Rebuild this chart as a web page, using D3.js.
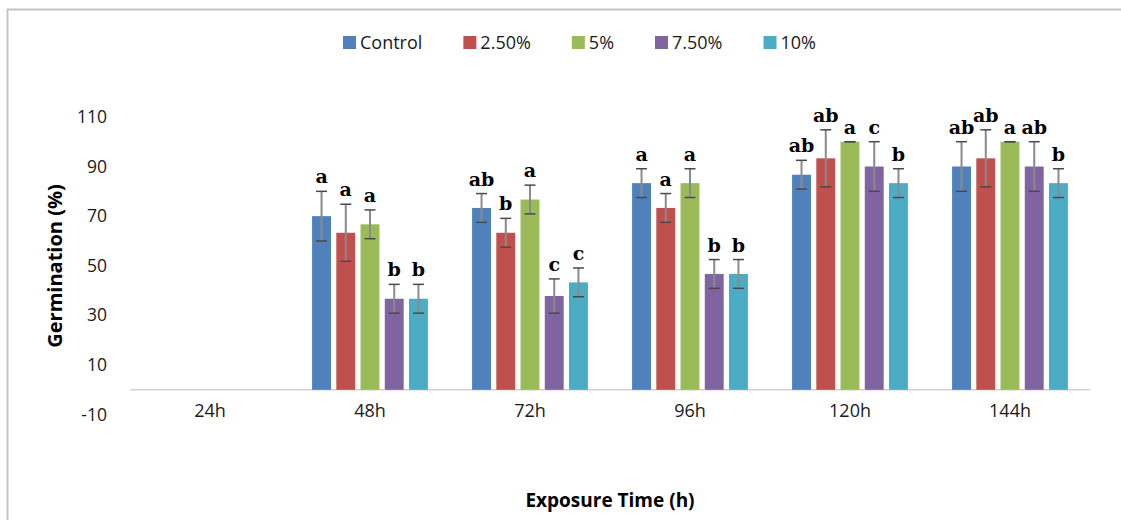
<!DOCTYPE html>
<html>
<head>
<meta charset="utf-8">
<script src="https://cdn.jsdelivr.net/npm/d3@7"></script>
<style>
  html, body { margin: 0; padding: 0; background: #fff; }
  svg { display: block; }
</style>
</head>
<body>
<svg id="chart" width="1121" height="520"></svg>
<script>
// ---- Data ----
const categories = ["24h", "48h", "72h", "96h", "120h", "144h"];
const seriesNames = ["Control", "2.50%", "5%", "7.50%", "10%"];

const controlValues = [0, 70.0, 73.3, 83.3, 86.7, 90.0];
const p250Values    = [0, 63.3, 63.3, 73.3, 93.3, 93.3];
const p5Values      = [0, 66.7, 76.7, 83.3, 100, 100];
const p750Values    = [0, 36.7, 37.8, 46.7, 90.0, 90.0];
const p10Values     = [0, 36.7, 43.3, 46.7, 83.3, 83.3];

const controlErr = [0, 10.0, 5.8, 5.8, 5.8, 10.0];
const p250Err    = [0, 11.5, 5.8, 5.8, 11.5, 11.5];
const p5Err      = [0, 5.8, 5.8, 5.8, 0, 0];
const p750Err    = [0, 5.8, 6.9, 5.8, 10.0, 10.0];
const p10Err     = [0, 5.8, 5.8, 5.8, 5.8, 5.8];

const controlSig = ["", "a", "ab", "a", "ab", "ab"];
const p250Sig    = ["", "a", "b", "a", "ab", "ab"];
const p5Sig      = ["", "a", "a", "a", "a", "a"];
const p750Sig    = ["", "b", "c", "b", "c", "ab"];
const p10Sig     = ["", "b", "c", "b", "b", "b"];

const yTickValues = [-10, 10, 30, 50, 70, 90, 110];

const colors = ["#4F81BD", "#C0504D", "#9BBB59", "#8064A2", "#4BACC6"];

const allValues = [controlValues, p250Values, p5Values, p750Values, p10Values];
const allErr = [controlErr, p250Err, p5Err, p750Err, p10Err];
const allSig = [controlSig, p250Sig, p5Sig, p750Sig, p10Sig];

// ---- Layout ----
const svg = d3.select("#chart");
const font = "'Open Sans', 'DejaVu Sans', sans-serif";

// chart border
svg.append("rect")
  .attr("x", 7.5).attr("y", 9.5)
  .attr("width", 1300).attr("height", 700)
  .attr("fill", "none").attr("stroke", "#c4c4c4").attr("stroke-width", 2);

const x0 = d3.scaleBand().domain(categories).range([130, 1090]).paddingInner(0).paddingOuter(0);
const groupHalf = x0.bandwidth() * 0.362;
const x1 = d3.scaleBand().domain(seriesNames).range([-groupHalf, groupHalf]).paddingInner(0.22).paddingOuter(0);
const y = d3.scaleLinear().domain([-10, 110]).range([414.6, 116.9]);

// y tick labels (no axis line)
const yAxis = d3.axisLeft(y).tickValues(yTickValues).tickSize(0).tickPadding(0).tickFormat(d => String(d));
const yg = svg.append("g").attr("transform", "translate(107,0)").call(yAxis);
yg.select(".domain").remove();
yg.selectAll("text").attr("font-family", font).attr("font-size", 17.5).attr("fill", "#1a1a1a");

// x axis line at zero
svg.append("line")
  .attr("x1", 130).attr("x2", 1090)
  .attr("y1", y(0)).attr("y2", y(0))
  .attr("stroke", "#d0d0d0").attr("stroke-width", 1.5);

// x category labels
const xAxis = d3.axisBottom(x0).tickSize(0).tickPadding(0);
const xg = svg.append("g").attr("transform", "translate(0,404)").call(xAxis);
xg.select(".domain").remove();
xg.selectAll("text").attr("font-family", font).attr("font-size", 18).attr("fill", "#1a1a1a");

// bars
const rows = [];
categories.forEach((c, i) => {
  seriesNames.forEach((s, j) => {
    rows.push({ cat: c, ser: s, j, v: allValues[j][i], e: allErr[j][i], sig: allSig[j][i] });
  });
});
const shown = rows.filter(d => d.v > 0);

const cx = d => x0(d.cat) + x0.bandwidth() / 2 + x1(d.ser) + x1.bandwidth() / 2;

svg.append("g").selectAll("rect").data(shown).join("rect")
  .attr("x", d => x0(d.cat) + x0.bandwidth() / 2 + x1(d.ser))
  .attr("width", x1.bandwidth())
  .attr("y", d => y(d.v))
  .attr("height", d => y(0) - y(d.v))
  .attr("fill", d => colors[d.j]);

// error bars
const eg = svg.append("g");
eg.selectAll("line.v").data(shown.filter(d => d.e > 0)).join("line")
  .attr("class", "v")
  .attr("x1", cx).attr("x2", cx)
  .attr("y1", d => y(d.v + d.e)).attr("y2", d => y(d.v - d.e))
  .attr("stroke", "#8a8a8a").attr("stroke-width", 2);
eg.selectAll("line.ct").data(shown).join("line")
  .attr("class", "ct")
  .attr("x1", d => cx(d) - 5.5).attr("x2", d => cx(d) + 5.5)
  .attr("y1", d => y(d.v + d.e)).attr("y2", d => y(d.v + d.e))
  .attr("stroke", "#4a4a4a").attr("stroke-width", 1.5);
eg.selectAll("line.cb").data(shown).join("line")
  .attr("class", "cb")
  .attr("x1", d => cx(d) - 5.5).attr("x2", d => cx(d) + 5.5)
  .attr("y1", d => y(d.v - d.e)).attr("y2", d => y(d.v - d.e))
  .attr("stroke", "#4a4a4a").attr("stroke-width", 1.5);

// significance letters
svg.append("g").selectAll("text").data(shown.filter(d => d.sig)).join("text")
  .attr("x", cx)
  .attr("y", d => y(d.v + d.e) - 8)
  .attr("text-anchor", "middle")
  .attr("font-family", "'DejaVu Serif', 'Liberation Serif', serif")
  .attr("font-weight", "bold")
  .attr("font-size", 19)
  .attr("fill", "#000")
  .text(d => d.sig);

// axis titles
svg.append("text")
  .attr("x", 610).attr("y", 507)
  .attr("text-anchor", "middle")
  .attr("font-family", font).attr("font-weight", "bold").attr("font-size", 19)
  .attr("fill", "#000")
  .text("Exposure Time (h)");

svg.append("text")
  .attr("transform", "translate(62,266) rotate(-90)")
  .attr("text-anchor", "middle")
  .attr("font-family", font).attr("font-weight", "bold").attr("font-size", 20)
  .attr("fill", "#000")
  .text("Germination (%)");

// legend
const lg = svg.append("g");
let lx = 343;
seriesNames.forEach((s, j) => {
  lg.append("rect").attr("x", lx).attr("y", 36).attr("width", 13).attr("height", 13).attr("fill", colors[j]);
  const t = lg.append("text")
    .attr("x", lx + 17).attr("y", 49)
    .attr("font-family", font).attr("font-size", 18).attr("fill", "#1a1a1a")
    .text(s);
  const w = t.node().getComputedTextLength();
  lx += 17 + w + 41;
});
</script>
</body>
</html>
